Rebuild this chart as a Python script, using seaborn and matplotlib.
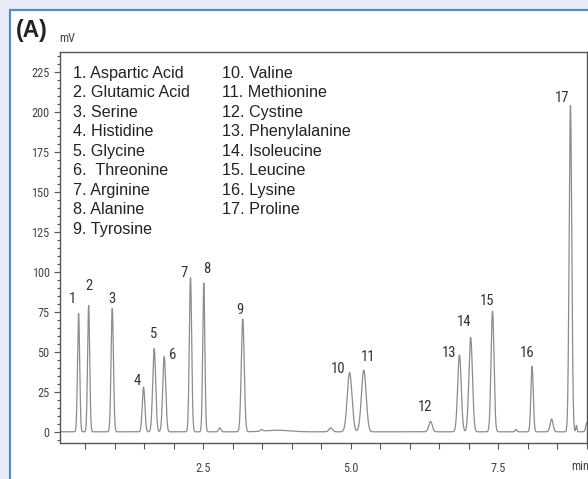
import numpy as np
import pandas as pd
import matplotlib
matplotlib.use("Agg")
import matplotlib.pyplot as plt
from matplotlib.patches import Rectangle
from matplotlib.ticker import MultipleLocator, FixedLocator
from matplotlib import font_manager
import seaborn as sns

sns.set_style("white")
plt.rcParams['font.family'] = ['Liberation Sans', 'DejaVu Sans']
_names = {f.name for f in font_manager.fontManager.ttflist}
NARROW = [n for n in ['Liberation Sans Narrow', 'Roboto Condensed', 'Liberation Sans']
          if n in _names] + ['DejaVu Sans']

# ---- data ----
peak_labels = [str(i) for i in range(1, 18)]
peak_times = [0.39, 0.56, 0.96, 1.49, 1.67, 1.84, 2.285, 2.51, 3.17,
              4.98, 5.22, 6.35, 6.84, 7.03, 7.40, 8.07, 8.72]
peak_heights = [74, 79, 77, 28, 52, 47, 96.5, 93, 70.5,
                37, 38.5, 6.5, 48, 59, 75.5, 41, 204]
peak_widths = [0.018, 0.018, 0.02, 0.022, 0.025, 0.025, 0.02, 0.018, 0.025,
               0.04, 0.04, 0.03, 0.03, 0.03, 0.025, 0.02, 0.022]
# minor unlabelled features of the baseline
minor_times = [2.78, 3.49, 3.75, 4.66, 7.80, 8.40, 8.82, 9.0]
minor_heights = [2.5, 1.0, 1.0, 2.5, 1.5, 8.0, 4.0, 6.0]
minor_widths = [0.02, 0.02, 0.2, 0.03, 0.015, 0.025, 0.01, 0.02]

amino_acids_col1 = ["1. Aspartic Acid", "2. Glutamic Acid", "3. Serine",
                    "4. Histidine", "5. Glycine", "6.  Threonine",
                    "7. Arginine", "8. Alanine", "9. Tyrosine"]
amino_acids_col2 = ["10. Valine", "11. Methionine", "12. Cystine",
                    "13. Phenylalanine", "14. Isoleucine", "15. Leucine",
                    "16. Lysine", "17. Proline"]

x_tick_labels = [2.5, 5.0, 7.5]
y_tick_labels = [0, 25, 50, 75, 100, 125, 150, 175, 200, 225]

# label offsets (pixels) relative to each peak apex
label_offsets = [(-6, 14), (0, 19), (0, 10), (-6, 6), (-1, 15), (8, 2),
                 (-6, 4), (3, 14), (-3, 9), (-12, 4), (4, 13), (-5, 14),
                 (-10, 2), (-7, 15), (-5, 10), (-5, 13), (-8, 8)]

# ---- build trace from peak parameters ----
t = np.linspace(0.07, 9.0, 6000)
signal = np.zeros_like(t)
for c, h, w in zip(peak_times + minor_times, peak_heights + minor_heights,
                   peak_widths + minor_widths):
    signal += h * np.exp(-0.5 * ((t - c) / w) ** 2)
df = pd.DataFrame({"time": t, "mV": signal})

# ---- figure ----
W, H = 588, 479
fig = plt.figure(figsize=(W / 100, H / 100), dpi=100)
fig.patch.set_facecolor("#e9ecf6")
panel = Rectangle((10 / W, -0.05), 1.2, (H - 10) / H + 0.05,
                  transform=fig.transFigure, facecolor="white",
                  edgecolor="#4b8fc6", linewidth=1.6, zorder=-5)
fig.patches.append(panel)

ax = fig.add_axes([60 / W, (H - 443) / H, (587 - 60) / W, (443 - 52) / H])
ax.set_zorder(2)
ax.set_facecolor("white")
sns.lineplot(data=df, x="time", y="mV", ax=ax, color="#8c8c8c",
             linewidth=0.9)

ax.set_xlim(0.075, 9.0)
ax.set_ylim(-7, 237.5)
ax.set_xlabel("")
ax.set_ylabel("")

for s in ax.spines.values():
    s.set_color("#555555")
    s.set_linewidth(1.0)

ax.xaxis.set_major_locator(FixedLocator(x_tick_labels))
ax.xaxis.set_minor_locator(MultipleLocator(0.5))
ax.set_xticklabels([f"{v:.1f}" for v in x_tick_labels])
ax.yaxis.set_major_locator(FixedLocator(y_tick_labels))
ax.yaxis.set_minor_locator(MultipleLocator(5))
ax.set_yticklabels([str(v) for v in y_tick_labels])
ax.tick_params(axis="both", which="both", direction="out", color="#555555",
               width=0.8, bottom=True, left=True)
ax.tick_params(axis="y", which="major", length=4.5, pad=3)
ax.tick_params(axis="y", which="minor", length=2.5)
ax.tick_params(axis="x", which="both", length=4, pad=10)
for lab in ax.get_xticklabels() + ax.get_yticklabels():
    lab.set_family(NARROW)
    lab.set_fontsize(8.8)
    lab.set_color("#444444")

# peak number labels
for lbl, x, y, (dx, dy) in zip(peak_labels, peak_times, peak_heights,
                               label_offsets):
    ax.annotate(lbl, (x, y), xytext=(dx * 0.72, dy * 0.72),
                textcoords="offset points", ha="center", va="center",
                fontsize=10.5, family=NARROW, color="#333333")

# compound list
def px_to_axes(px, py):
    return (px - 60) / 527, (443 - py) / 391

for i, s in enumerate(amino_acids_col1):
    x, y = px_to_axes(72.7, 77.7 + 19.5 * i)
    ax.text(x, y, s, transform=ax.transAxes, fontsize=11.6,
            va="baseline", ha="left", color="#222222")
for i, s in enumerate(amino_acids_col2):
    x, y = px_to_axes(221.7, 77.7 + 19.5 * i)
    ax.text(x, y, s, transform=ax.transAxes, fontsize=11.6,
            va="baseline", ha="left", color="#222222")

fig.text(32 / W, 1 - 31 / H, "(A)", fontsize=16.5, fontweight="bold",
         ha="center", va="center", color="#222222")
fig.text(67 / W, 1 - 39 / H, "mV", fontsize=8.8, family=NARROW,
         ha="center", va="center", color="#444444")
fig.text(580 / W, 1 - 467 / H, "min", fontsize=8.8, family=NARROW,
         ha="center", va="center", color="#444444")

fig.savefig("out.png", dpi=100, facecolor=fig.get_facecolor())
